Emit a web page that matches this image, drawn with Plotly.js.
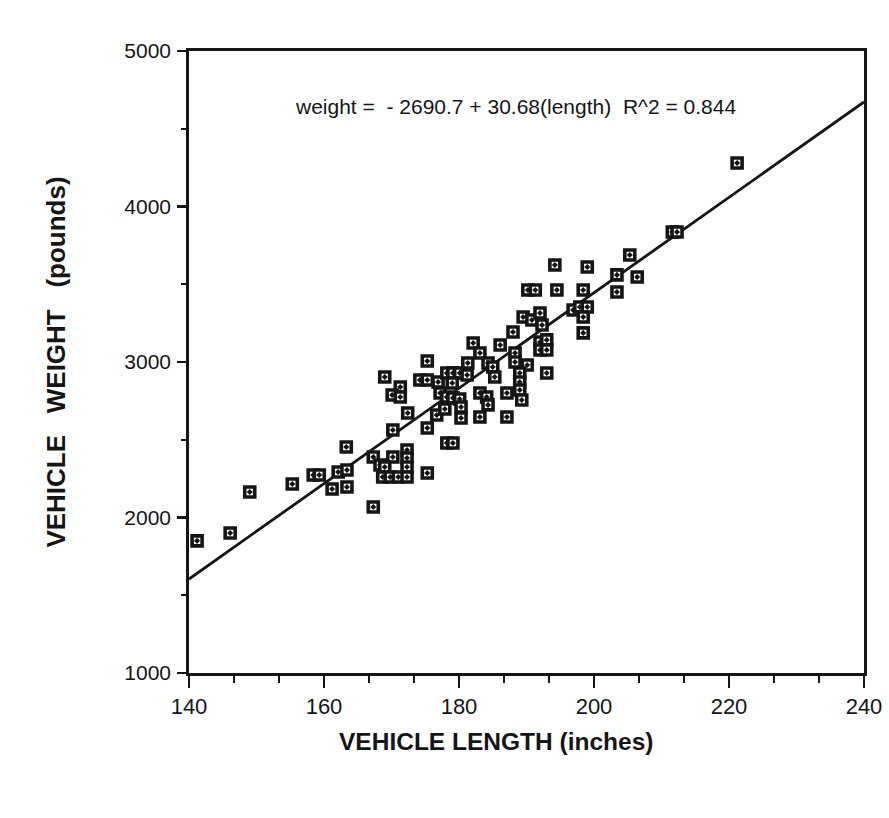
<!DOCTYPE html>
<html>
<head>
<meta charset="utf-8">
<script src="https://cdn.plot.ly/plotly-3.0.1.min.js"></script>
<style>html,body{margin:0;padding:0;background:#fff;}#chart{width:889px;height:818px;}</style>
</head>
<body>
<div id="chart"></div>
<script>
// Vehicle length (inches)
const vehicleLength = [
  141.2,146.1,149.0,155.3,158.4,159.3,162.1,163.4,161.2,163.4,
  163.3,167.3,167.3,170.2,168.3,169.0,172.3,172.3,172.3,168.7,
  169.8,171.0,172.3,175.3,170.2,172.4,175.3,178.2,179.1,169.0,
  171.3,170.1,171.3,175.3,174.2,175.3,176.9,178.2,179.1,180.1,
  181.2,179.0,177.2,178.2,179.1,180.1,180.3,180.3,176.7,177.9,
  181.3,182.1,183.1,184.3,185.0,185.3,183.1,184.1,184.3,183.1,
  187.1,187.1,186.1,188.0,188.3,188.3,190.1,189.0,189.0,189.0,
  189.3,193.0,192.0,193.0,192.0,193.0,189.5,190.8,192.0,192.3,
  190.2,191.3,194.2,194.5,199.0,198.4,196.9,197.9,199.0,198.4,
  198.4,203.4,206.4,203.4,205.3,211.6,212.3,221.2
];
// Vehicle weight (pounds)
const vehicleWeight = [
  1850,1900,2164,2215,2273,2273,2293,2305,2183,2196,
  2453,2068,2389,2389,2338,2325,2434,2383,2325,2260,
  2260,2260,2260,2286,2563,2672,2576,2479,2479,2904,
  2839,2788,2775,3006,2884,2884,2871,2929,2929,2929,
  2916,2865,2801,2775,2769,2762,2711,2640,2659,2698,
  2994,3122,3058,2994,2968,2904,2801,2775,2724,2646,
  2646,2801,3109,3193,3058,3000,2981,2929,2871,2820,
  2756,2929,3129,3142,3077,3077,3289,3270,3315,3238,
  3463,3463,3624,3463,3611,3463,3334,3354,3354,3289,
  3187,3560,3547,3450,3688,3836,3836,4280
];
// Regression line as printed on the chart
const intercept = -2690.7;
const slope = 30.68;
const fitRange = [140, 240];
const fitWeight = fitRange.map(v => intercept + slope * v);

const xTicks = [140, 160, 180, 200, 220, 240];
const yTicks = [1000, 2000, 3000, 4000, 5000];
const equationText = "weight =  - 2690.7 + 30.68(length)  R^2 = 0.844";
const xTitle = "VEHICLE LENGTH (inches)";
const yTitle = "VEHICLE   WEIGHT   (pounds)";

const font = "Liberation Sans, Arial, Helvetica, sans-serif";
const ink = "#151515";

const traces = [
  {
    x: fitRange, y: fitWeight, type: "scatter", mode: "lines",
    line: {color: ink, width: 2.8}, hoverinfo: "skip", showlegend: false
  },
  {
    x: vehicleLength, y: vehicleWeight, type: "scatter", mode: "markers",
    marker: {symbol: "square-dot", size: 10, color: "#fff", line: {color: ink, width: 3.6}},
    showlegend: false
  }
];

const layout = {
  width: 889, height: 818,
  paper_bgcolor: "#fff", plot_bgcolor: "#fff",
  margin: {l: 189, r: 25, t: 51, b: 145},
  font: {family: font, color: ink, size: 17},
  showlegend: false,
  xaxis: {
    range: [140, 240], tickvals: xTicks, ticktext: xTicks.map(String),
    showgrid: false, zeroline: false, showline: true, linecolor: ink, linewidth: 2.8,
    mirror: true, ticks: "outside", ticklen: 12, tickwidth: 2.5, tickcolor: ink,
    minor: {dtick: 20/3, tick0: 140, ticks: "outside", ticklen: 7, tickwidth: 2, tickcolor: ink, showgrid: false},
    tickfont: {family: font, size: 22, color: ink}
  },
  yaxis: {
    range: [1000, 5000], tickvals: yTicks, ticktext: yTicks.map(String),
    showgrid: false, zeroline: false, showline: true, linecolor: ink, linewidth: 2.8,
    mirror: true, ticks: "outside", ticklen: 9, tickwidth: 2.5, tickcolor: ink,
    minor: {dtick: 500, tick0: 1000, ticks: "outside", ticklen: 5, tickwidth: 2, tickcolor: ink, showgrid: false},
    tickfont: {family: font, size: 21, color: ink},
    ticklabelstandoff: 2,
    title: {text: "<b>" + yTitle + "</b>", font: {family: font, size: 26, color: ink}, standoff: 52}
  },
  annotations: [
    {
      x: 188.4, y: 4640, xref: "x", yref: "y", text: equationText, showarrow: false,
      font: {family: font, size: 21, color: ink}, xanchor: "center", yanchor: "middle"
    },
    {
      x: 0, y: 0, xref: "paper", yref: "paper", text: "<b>" + xTitle + "</b>", showarrow: false,
      font: {family: font, size: 24.5, color: ink}, xanchor: "center", yanchor: "middle"
    }
  ]
};
// place x-title annotation in pixel terms converted to paper coords
const plotW = 889 - 189 - 25, plotH = 818 - 51 - 145;
layout.annotations[1].x = (496 - 189) / plotW;
layout.annotations[1].y = (818 - 145 - 741) / plotH;

Plotly.newPlot("chart", traces, layout, {displayModeBar: false, staticPlot: true});
</script>
</body>
</html>
